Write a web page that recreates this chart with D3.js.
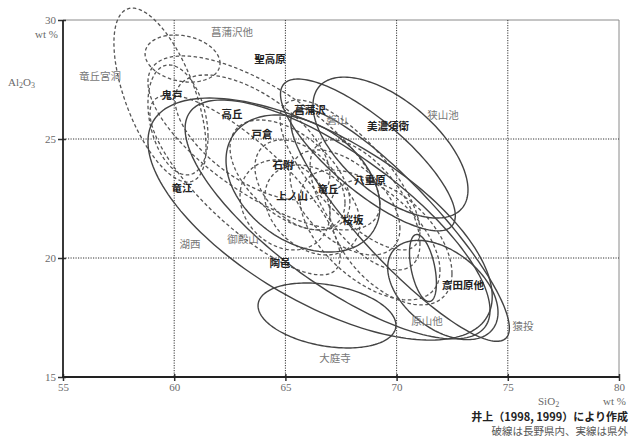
<!DOCTYPE html>
<html><head><meta charset="utf-8">
<script src="https://cdn.jsdelivr.net/npm/d3@7/dist/d3.min.js"></script>
<style>body{margin:0;background:#fff}svg{display:block}</style>
</head><body><svg id="c" width="631" height="437"></svg>
<script>
// ---- data ----
const xTicks = [55, 60, 65, 70, 75, 80];
const yTicks = [15, 20, 25, 30];
const gridX = [60, 65, 70, 75];
const gridY = [20, 25];

// ellipses: SiO2 range, Al2O3 range, correlation; region 県内 = dashed, 県外 = solid
const ellipseNames  = ["湖西","御殿山","桜坂","原山他","斎田原他","猿投","美濃須衛","狭山池","大庭寺",
                       "竜丘宮洞","菖蒲沢他","鬼戸","聖高原","竜江","高丘","戸倉","石附","上ノ山","竜丘","八重原","磐山","菖蒲沢","陶邑","上ノ山2"];
const ellipseRegion = ["県外","県外","県外","県外","県外","県外","県外","県外","県外",
                       "県内","県内","県内","県内","県内","県内","県内","県内","県内","県内","県内","県内","県内","県内","県内"];
const siMin = [58.82,60.49,62.33,70.58,69.60,65.24,64.78,66.24,63.77, 57.29,58.69,58.82,58.82,58.91,60.04,62.51,63.63,64.08,65.21,66.11,64.76,67.00,65.66,62.96];
const siMax = [74.30,74.20,69.25,71.79,74.56,75.07,72.64,73.21,69.97, 61.43,62.06,61.52,69.25,67.46,67.00,67.90,67.68,68.35,70.15,71.05,71.05,72.49,71.95,67.00];
const alMin = [16.55,16.60,20.25,18.17,16.57,16.50,21.14,21.68,16.22, 23.19,27.39,23.49,21.18,19.29,22.44,21.18,21.18,20.13,20.13,19.50,20.34,18.03,18.24,20.34];
const alMax = [26.72,26.64,26.01,20.99,20.74,26.27,27.52,27.60,18.95, 30.50,29.37,28.11,28.49,26.85,27.69,25.80,24.96,23.91,24.54,24.96,26.64,23.28,23.70,24.12];
const corr  = [-0.64,-0.76,-0.34,-0.45,-0.45,-0.886,-0.80,-0.60,-0.30, -0.60,-0.20,-0.30,-0.70,-0.80,-0.60,-0.50,-0.40,-0.30,-0.50,-0.60,-0.75,-0.50,-0.55,-0.20];

// labels (position in data units)
const labelText = ["菖蒲沢他","聖高原","竜丘宮洞","鬼戸","高丘","菖蒲沢","磐山","美濃須衛","狭山池","戸倉","石附","上ノ山","竜丘","八重原","桜坂","竜江","湖西","御殿山","陶邑","斎田原他","原山他","猿投","大庭寺"];
const labelSi   = [62.6,64.31,56.66,59.9,62.6,66.11,67.32,69.61,72.09,63.95,64.89,65.3,66.92,68.8,68.04,60.35,60.71,63.09,64.76,72.99,71.37,75.68,67.23];
const labelAl   = [29.5,28.4,27.65,26.89,26.09,26.22,25.8,25.55,26.01,25.25,23.91,22.61,22.94,23.28,21.6,22.98,20.63,20.84,19.79,18.87,17.39,17.18,15.84];
const lightLabels = new Set(["菖蒲沢他","竜丘宮洞","磐山","狭山池","湖西","御殿山","原山他","猿投","大庭寺"]);

// ---- drawing ----
const svg = d3.select("#c");
const x = d3.scaleLinear().domain([55, 80]).range([63, 619]);
const y = d3.scaleLinear().domain([15, 30]).range([377, 20]);
const serif = "'Liberation Serif','DejaVu Serif',serif";
const jp = "'Noto Sans CJK JP','Noto Sans CJK SC',sans-serif";

// frame (top/right)
svg.append("line").attr("x1", x(55)).attr("x2", x(80)).attr("y1", y(30)).attr("y2", y(30)).attr("stroke", "#8a8a8a").attr("stroke-width", 1);
svg.append("line").attr("x1", x(80)).attr("x2", x(80)).attr("y1", y(30)).attr("y2", y(15)).attr("stroke", "#8a8a8a").attr("stroke-width", 1);

// grid
svg.append("g").selectAll("line").data(gridX).join("line")
  .attr("x1", d => x(d)).attr("x2", d => x(d)).attr("y1", y(30)).attr("y2", y(15))
  .attr("stroke", "#333").attr("stroke-width", 1).attr("stroke-dasharray", "1.2,1.3");
svg.append("g").selectAll("line").data(gridY).join("line")
  .attr("x1", x(55)).attr("x2", x(80)).attr("y1", d => y(d)).attr("y2", d => y(d))
  .attr("stroke", "#333").attr("stroke-width", 1).attr("stroke-dasharray", "1.2,1.3");

// ellipses
const ell = ellipseNames.map((n, i) => ({
  name: n, region: ellipseRegion[i],
  cx: (siMin[i] + siMax[i]) / 2, sx: (siMax[i] - siMin[i]) / 2,
  cy: (alMin[i] + alMax[i]) / 2, sy: (alMax[i] - alMin[i]) / 2, r: corr[i]
}));
const ts = d3.range(0, 2 * Math.PI, Math.PI / 90);
const line = d3.line().x(p => x(p[0])).y(p => y(p[1])).curve(d3.curveLinearClosed);
const pts = e => ts.map(t => [e.cx + e.sx * Math.cos(t),
  e.cy + e.sy * (e.r * Math.cos(t) + Math.sqrt(1 - e.r * e.r) * Math.sin(t))]);

svg.append("g").selectAll("path").data(ell.filter(e => e.region === "県内")).join("path")
  .attr("d", e => line(pts(e))).attr("fill", "none")
  .attr("stroke", "#555").attr("stroke-width", 1.3).attr("stroke-dasharray", "3.5,2.5");
svg.append("g").selectAll("path").data(ell.filter(e => e.region === "県外")).join("path")
  .attr("d", e => line(pts(e))).attr("fill", "none")
  .attr("stroke", "#444").attr("stroke-width", 1.4);

// axes
const ax = svg.append("g").attr("transform", `translate(0,${y(15)})`)
  .call(d3.axisBottom(x).tickValues(xTicks).tickSize(4).tickPadding(2));
const ay = svg.append("g").attr("transform", `translate(${x(55)},0)`)
  .call(d3.axisLeft(y).tickValues(yTicks).tickSize(5).tickPadding(2));
[ax, ay].forEach(g => {
  g.select(".domain").remove();
  g.selectAll(".tick line").attr("stroke", "#333").attr("stroke-width", 1.5);
  g.selectAll(".tick text").attr("fill", "#6a6a6a").attr("font-family", serif).attr("font-size", 11);
});
ax.selectAll(".tick line").attr("y1", -3);
ay.selectAll(".tick line").attr("x1", 3);
svg.append("line").attr("x1", x(55)).attr("x2", x(55)).attr("y1", y(30)).attr("y2", y(15)).attr("stroke", "#222").attr("stroke-width", 1.8);
svg.append("line").attr("x1", x(55) - 1).attr("x2", x(80)).attr("y1", y(15)).attr("y2", y(15)).attr("stroke", "#222").attr("stroke-width", 1.8);

// axis titles
svg.append("text").attr("x", 58).attr("y", 38).attr("text-anchor", "end")
  .attr("font-family", serif).attr("font-size", 11).attr("fill", "#6a6a6a").text("wt %");
const al = svg.append("text").attr("x", 8).attr("y", 86).attr("font-family", serif).attr("font-size", 11).attr("fill", "#6a6a6a");
al.append("tspan").text("Al");
al.append("tspan").attr("font-size", 8).attr("dy", 2).text("2");
al.append("tspan").attr("dy", -2).text("O");
al.append("tspan").attr("font-size", 8).attr("dy", 2).text("3");
const si = svg.append("text").attr("x", 538).attr("y", 405).attr("font-family", serif).attr("font-size", 11).attr("fill", "#6a6a6a");
si.append("tspan").text("SiO");
si.append("tspan").attr("font-size", 8).attr("dy", 1.5).text("2");
svg.append("text").attr("x", 626).attr("y", 405).attr("text-anchor", "end")
  .attr("font-family", serif).attr("font-size", 11).attr("fill", "#6a6a6a").text("wt %");
svg.append("text").attr("x", 628).attr("y", 421).attr("text-anchor", "end")
  .attr("font-family", jp).attr("font-size", 11).attr("font-weight", "bold").attr("fill", "#222")
  .text("井上（1998, 1999）により作成");
svg.append("text").attr("x", 628).attr("y", 434.5).attr("text-anchor", "end")
  .attr("font-family", jp).attr("font-size", 10.5).attr("fill", "#555")
  .text("破線は長野県内、実線は県外");

// labels
svg.append("g").selectAll("text").data(labelText).join("text")
  .attr("x", (d, i) => x(labelSi[i])).attr("y", (d, i) => y(labelAl[i]))
  .attr("text-anchor", "middle").attr("dominant-baseline", "central")
  .attr("font-family", jp).attr("font-size", 10.5)
  .attr("font-weight", d => lightLabels.has(d) ? "normal" : "bold")
  .attr("fill", d => lightLabels.has(d) ? "#777" : "#222")
  .text(d => d);
</script></body></html>
